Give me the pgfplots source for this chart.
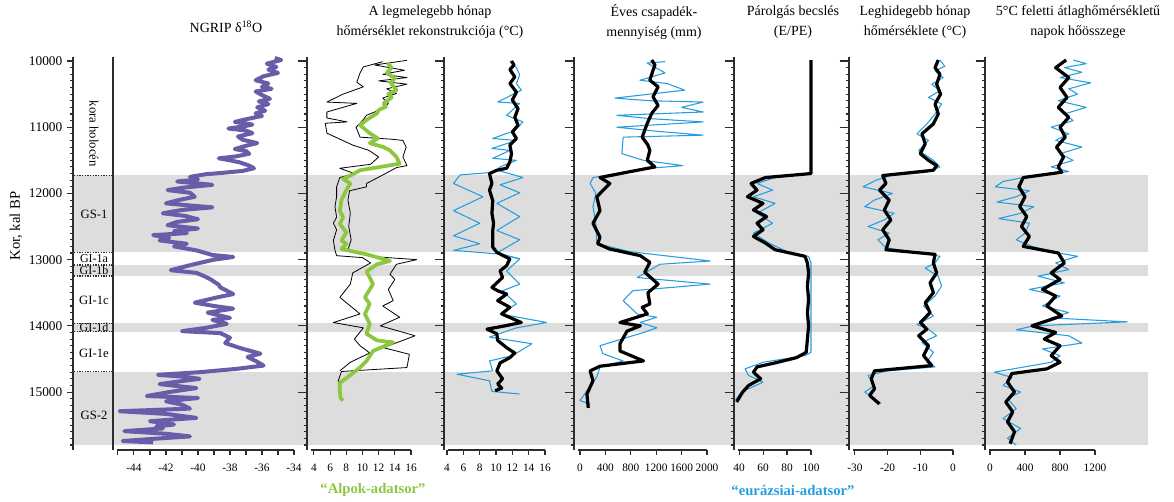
\documentclass[border=0pt]{standalone}
\usepackage{fontspec}
\setmainfont{Liberation Serif}
\usepackage{pgfplots}
\pgfplotsset{compat=1.18}
\definecolor{ngrip}{RGB}{106,92,168}
\definecolor{alpgreen}{RGB}{141,198,63}
\definecolor{eurblue}{RGB}{38,158,221}
\definecolor{band}{RGB}{221,221,221}
\definecolor{axisgray}{RGB}{45,45,45}
\newcommand\tfont{\fontsize{10.5}{14.5}\selectfont}
\pgfplotsset{
  agebase/.style={scale only axis, anchor=north west, clip=false,
    height=294.7pt, ymin=9940, ymax=15875, y dir=reverse,
    scaled y ticks=false, scaled x ticks=false},
  panel/.style={agebase,
    axis x line*=bottom, axis y line*=left,
    axis line style={axisgray, line width=1pt},
    x axis line style={shorten <=3pt},
    ytick={10000,11000,...,15000}, yticklabels={},
    minor ytick={10000,10100,...,15800},
    tick align=outside, major tick length=7pt, minor tick length=2.5pt,
    tick style={axisgray, line width=0.8pt},
    xtick style={/pgfplots/major tick length=3.5pt},
    xticklabel style={font=\fontsize{8.5}{10}\selectfont},
    every axis plot/.append style={line join=round, no marks}},
  thinblack/.style={black, line width=0.6pt},
  thickblack/.style={black, line width=2.4pt},
  thinblue/.style={eurblue, line width=0.8pt},
}
\begin{document}
\begin{tikzpicture}
\path[use as bounding box] (0,0) rectangle (880.5pt,-375.75pt);
% background: bands, main age axis, stage column
\begin{axis}[agebase, at={(54.75pt,-42.77pt)}, width=806.25pt, xmin=73, xmax=1148,
  axis x line=none, axis y line*=left, axis line style={axisgray,line width=1pt},
  ytick={10000,11000,...,15000}, yticklabels={10000,11000,12000,13000,14000,15000},
  minor ytick={10000,10100,...,15800}, tick align=outside,
  major tick length=4.5pt, minor tick length=2pt, tick style={axisgray,line width=0.8pt},
  yticklabel style={font=\fontsize{10}{12}\selectfont}, axis on top]
\addplot[fill=band, draw=none] coordinates {(74,11725) (1148,11725) (1148,12890) (74,12890)};
\addplot[fill=band, draw=none] coordinates {(74,13080) (1148,13080) (1148,13245) (74,13245)};
\addplot[fill=band, draw=none] coordinates {(74,13960) (1148,13960) (1148,14090) (74,14090)};
\addplot[fill=band, draw=none] coordinates {(74,14690) (1148,14690) (1148,15800) (74,15800)};
\foreach \a in {11725,12890,13080,13245,13960,14090,14690}{
  \edef\tmp{\noexpand\draw[axisgray, densely dotted, line width=1pt] (axis cs:74,\a) -- (axis cs:113,\a);}\tmp}
\node[font=\fontsize{9.5}{11}\selectfont, rotate=-90] at (axis cs:94,11100) {kora holocén};
\node[font=\fontsize{9.5}{11}\selectfont] at (axis cs:94,12310) {GS-1};
\node[font=\fontsize{9}{10}\selectfont] at (axis cs:94,12985) {GI-1a};
\node[font=\fontsize{9}{10}\selectfont] at (axis cs:94,13160) {GI-1b};
\node[font=\fontsize{9.5}{11}\selectfont] at (axis cs:94,13620) {GI-1c};
\node[font=\fontsize{9}{10}\selectfont] at (axis cs:94,14025) {GI-1d};
\node[font=\fontsize{9.5}{11}\selectfont] at (axis cs:94,14410) {GI-1e};
\node[font=\fontsize{9.5}{11}\selectfont] at (axis cs:94,15350) {GS-2};
\end{axis}
% Panel 1: NGRIP
\begin{axis}[panel, at={(84.75pt,-42.77pt)}, width=135.75pt, xmin=-45.31, xmax=-34,
  ytick=\empty, minor ytick=\empty, y axis line style={line width=1.5pt},
  xtick={-45,-44,...,-34}, xticklabels={,-44,,-42,,-40,,-38,,-36,,-34}]
\addplot[ngrip, line width=3pt] coordinates {
(-35.2,9955) (-34.8,9985) (-35.7,10040) (-35.1,10090) (-35.6,10130) (-35.0,10180) (-35.9,10230) (-36.4,10290) (-35.6,10340) (-36.0,10390) (-35.4,10420) (-36.4,10460) (-36.0,10515) (-35.5,10570) (-36.2,10610) (-35.6,10650) (-36.3,10700) (-35.8,10750) (-36.4,10790) (-36.0,10830) (-37.0,10880) (-37.7,10920) (-36.6,10960) (-37.2,10990) (-38.1,11020) (-37.0,11050) (-36.6,11090) (-37.5,11140) (-37.2,11190) (-36.3,11240) (-37.0,11280) (-37.7,11330) (-37.0,11360) (-36.8,11400) (-37.6,11440) (-38.7,11470) (-38.0,11500) (-37.4,11530) (-36.8,11580) (-36.5,11620) (-37.2,11660) (-38.5,11690) (-39.5,11710) (-40.5,11750) (-40.0,11790) (-41.3,11820) (-39.1,11870) (-40.8,11910) (-41.9,11950) (-40.5,11990) (-40.2,12050) (-41.2,12100) (-42.0,12150) (-40.6,12180) (-39.1,12210) (-41.0,12250) (-42.2,12300) (-40.8,12340) (-40.0,12390) (-41.3,12430) (-41.9,12480) (-40.0,12530) (-41.5,12570) (-40.7,12600) (-42.8,12630) (-41.8,12670) (-42.4,12710) (-40.7,12760) (-41.5,12800) (-40.1,12860) (-39.1,12930) (-37.8,12960) (-39.0,13000) (-39.9,13050) (-40.6,13090) (-41.7,13160) (-40.1,13200) (-39.6,13250) (-39.2,13300) (-38.7,13380) (-38.6,13420) (-38.2,13470) (-37.8,13520) (-38.8,13570) (-40.2,13650) (-39.0,13700) (-37.8,13740) (-39.4,13800) (-38.0,13880) (-39.1,13910) (-38.2,13970) (-39.5,14030) (-41.0,14080) (-38.6,14110) (-38.0,14180) (-38.3,14260) (-37.3,14340) (-36.1,14420) (-36.9,14470) (-36.4,14530) (-35.9,14600) (-37.6,14650) (-39.9,14700) (-42.5,14740) (-40.8,14770) (-39.9,14800) (-41.5,14850) (-42.4,14880) (-40.1,14940) (-41.8,15000) (-43.2,15060) (-40.0,15090) (-42.0,15140) (-41.0,15190) (-40.5,15250) (-44.9,15290) (-42.0,15330) (-40.1,15390) (-43.0,15440) (-41.5,15490) (-42.6,15520) (-42.2,15550) (-44.6,15590) (-42.0,15630) (-40.5,15670) (-43.0,15710) (-44.7,15740) (-42.8,15760)};
\end{axis}
% Panel 2: Alps
\begin{axis}[panel, at={(230.25pt,-42.77pt)}, width=78pt, xmin=3.14, xmax=16,
  xtick={4,6,...,16}, xticklabels={4,6,8,10,12,14,16}]
\addplot[thinblack] coordinates {
(15.5,9990) (11.5,10060) (15.2,10140) (12.5,10200) (15.5,10250) (12.0,10300) (15.5,10350) (13.0,10420) (14.2,10490) (12.5,10560) (13.2,10640) (12.5,10720) (10.5,10820) (10.0,10900) (9.2,11000) (9.7,11150) (13.5,11180) (15.0,11200) (15.4,11300) (15.0,11450) (15.5,11580) (14.2,11610) (13.0,11690) (10.5,11850) (10.5,11900) (8.4,11960) (8.2,12100) (8.5,12300) (8.3,12500) (8.6,12700) (8.2,12850) (12.0,12960) (16.7,13000) (14.2,13070) (13.4,13220) (14.0,13300) (13.2,13450) (13.8,13620) (12.5,13700) (14.6,13870) (12.2,14000) (16.5,14150) (12.6,14330) (15.8,14430) (15.5,14630) (10.0,14670) (7.4,14690) (7.0,14830) (7.4,15030)};
\addplot[thinblack] coordinates {
(12.5,10010) (10.1,10090) (9.7,10180) (9.3,10320) (10.1,10390) (7.6,10500) (5.6,10620) (9.3,10640) (5.6,10770) (5.6,10860) (8.1,10920) (5.4,10940) (5.6,11090) (8.8,11270) (10.8,11350) (12.0,11450) (11.0,11560) (7.2,11620) (9.0,11700) (7.2,11760) (6.8,11900) (6.8,12050) (6.6,12200) (6.8,12360) (6.4,12450) (6.8,12550) (6.4,12710) (6.6,12860) (6.8,12940) (10.0,12970) (11.0,13050) (8.8,13200) (8.5,13370) (7.2,13570) (8.5,13700) (9.7,13820) (6.4,13950) (10.1,14030) (9.0,14200) (9.7,14300) (10.9,14410) (8.5,14550) (7.2,14680)};
\addplot[alpgreen, line width=2.8pt] coordinates {
(13.1,10030) (13.6,10100) (13.0,10180) (14.0,10260) (13.5,10330) (14.2,10440) (13.2,10500) (13.6,10550) (12.6,10640) (12.9,10690) (12.0,10740) (11.8,10790) (10.5,10890) (9.7,10970) (10.5,11050) (10.9,11090) (11.9,11170) (10.9,11240) (12.6,11300) (13.4,11350) (14.2,11450) (14.6,11550) (12.2,11600) (9.7,11650) (8.5,11730) (7.6,11780) (8.5,11850) (8.0,11950) (7.4,12100) (7.2,12260) (7.6,12360) (7.2,12460) (8.0,12590) (7.4,12710) (8.0,12760) (7.4,12840) (10.5,12920) (13.4,13020) (11.8,13070) (10.5,13180) (10.9,13270) (11.3,13370) (10.3,13570) (10.9,13670) (10.3,13820) (10.9,13970) (10.5,14120) (11.8,14220) (13.8,14250) (11.3,14380) (10.5,14530) (9.7,14630) (8.0,14790) (7.2,14860) (7.2,14990) (7.3,15090) (7.6,15130)};
\end{axis}
% Panel 3: Eurasia warmest month
\begin{axis}[panel, at={(333pt,-42.77pt)}, width=75.75pt, xmin=3.63, xmax=16,
  xtick={4,6,...,16}, xticklabels={4,6,8,10,12,14,16}]
\addplot[thinblue] coordinates {
(11.7,10000) (12.5,10100) (12.9,10210) (12.5,10340) (13.1,10440) (10.2,10620) (12.9,10640) (11.3,10820) (13.3,10920) (12.3,11050) (9.6,11170) (12.5,11200) (9.5,11320) (11.7,11350) (9.6,11470) (12.5,11500) (10.5,11600) (9.8,11680) (5.6,11720) (4.8,11850) (8.4,12050) (4.8,12260) (8.0,12450) (4.8,12640) (8.0,12760) (4.8,12860) (10.8,12920) (12.9,12990) (11.3,13170) (12.9,13370) (10.8,13470) (12.5,13670) (10.5,13820) (16.2,13950) (12.5,14030) (9.2,14170) (14.4,14270) (12.0,14450) (9.2,14530) (9.6,14680) (5.2,14730) (9.2,14830) (9.5,14990) (12.9,15030)};
\addplot[thinblue] coordinates {
(10.2,11650) (13.3,11760) (10.5,11870) (12.9,11990) (10.1,12150) (12.9,12350) (10.1,12560) (12.9,12700) (10.1,12900) (12.9,12990)};
\addplot[thickblack] coordinates {
(11.9,10000) (12.2,10060) (11.7,10130) (12.3,10240) (11.7,10340) (12.5,10470) (12.0,10590) (12.7,10720) (12.3,10850) (12.7,10970) (12.0,11070) (12.5,11170) (11.7,11270) (11.9,11400) (11.7,11520) (11.3,11620) (10.1,11650) (9.2,11700) (9.5,11850) (9.2,11950) (9.6,12110) (9.5,12300) (9.7,12450) (9.6,12560) (9.6,12810) (10.1,12890) (11.7,12990) (11.3,13090) (10.5,13170) (10.8,13270) (9.5,13420) (10.2,13470) (11.3,13520) (10.2,13620) (11.7,13720) (10.7,13820) (13.1,13950) (11.1,14000) (8.9,14050) (10.1,14120) (10.2,14220) (11.3,14330) (12.3,14410) (11.7,14480) (10.5,14560) (10.1,14680) (10.8,14800) (10.2,14880) (10.7,14940) (9.9,14980)};
\end{axis}
% Panel 4: annual precipitation
\begin{axis}[panel, at={(430.5pt,-42.77pt)}, width=99.75pt, xmin=-94, xmax=2000,
  xtick={0,400,...,2000}, xticklabels={0,400,800,1200,1600,2000}]
\addplot[thinblue] coordinates {
(1340,10010) (1055,10030) (1340,10180) (945,10290) (1370,10340) (1650,10440) (550,10560) (1100,10600) (1940,10620) (1600,10700) (1940,10770) (580,10820) (1100,10870) (1940,10920) (580,11000) (1200,11060) (1940,11120) (680,11150) (660,11400) (1000,11500) (1620,11580) (1100,11620) (205,11760) (160,11850) (250,12000) (205,12200) (250,12450) (265,12760) (790,12880) (2050,13020) (1260,13070) (900,13270) (2050,13370) (830,13470) (680,13620) (900,13820) (1210,13870) (950,13950) (1210,14030) (1000,14100) (315,14300) (360,14420) (680,14530) (315,14620) (265,14770) (0,15130) (160,15180)};
\addplot[thickblack] coordinates {
(1130,9985) (1180,10060) (1150,10140) (1100,10290) (1230,10390) (1150,10540) (1230,10670) (1130,10790) (1060,10940) (980,11150) (1070,11270) (1100,11350) (1060,11500) (1180,11600) (740,11680) (315,11760) (470,11850) (265,12050) (315,12260) (205,12450) (315,12660) (280,12760) (470,12840) (950,12940) (1100,13040) (1020,13190) (1230,13370) (1070,13500) (1100,13670) (980,13720) (1060,13820) (630,13950) (950,14000) (740,14080) (630,14270) (630,14380) (1000,14530) (315,14610) (160,14680) (205,14830) (110,15030) (130,15240)};
\end{axis}
% Panel 5: E/PE
\begin{axis}[panel, at={(550.5pt,-42.77pt)}, width=57.75pt, xmin=35.8, xmax=100,
  xtick={40,60,80,100}, xticklabels={40,60,80,100}]
\addplot[thinblue] coordinates {
(100,9985) (100,11700) (70,11760) (55,11850) (68,11950) (52,12050) (70,12150) (55,12300) (68,12450) (52,12600) (65,12750) (80,12880) (98,12950) (100,13050) (100,14400) (95,14450) (60,14550) (45,14650) (48,14750) (60,14850) (42,15000) (37,15120)};
\addplot[thickblack] coordinates {
(100,9985) (100,11700) (62,11760) (50,11850) (55,11950) (47,12050) (60,12150) (52,12250) (63,12350) (55,12450) (60,12550) (52,12650) (62,12750) (70,12850) (95,12950) (97,13050) (98,13200) (97,13400) (98,13600) (97,13800) (98,14000) (97,14200) (96,14400) (88,14480) (70,14560) (55,14620) (52,14700) (58,14800) (48,14900) (43,15000) (38,15150)};
\end{axis}
% Panel 6: coldest month
\begin{axis}[panel, at={(636.75pt,-42.77pt)}, width=78pt, xmin=-31.8, xmax=0,
  xtick={-30,-20,-10,0}, xticklabels={-30,-20,-10,0}]
\addplot[thinblue] coordinates {
(-4.0,9985) (-2.5,10080) (-5.5,10150) (-3.0,10250) (-6.5,10350) (-4.0,10450) (-7.5,10550) (-3.5,10650) (-5.5,10800) (-8.0,10950) (-11.0,11100) (-7.5,11200) (-10.5,11350) (-6.0,11500) (-4.0,11600) (-8.0,11680) (-19.0,11730) (-23.5,11800) (-27.5,11900) (-18.5,12000) (-24.0,12100) (-27.0,12200) (-18.0,12300) (-21.0,12400) (-26.0,12500) (-19.5,12600) (-23.0,12700) (-20.5,12820) (-10.0,12900) (-4.0,12950) (-5.5,13050) (-8.5,13130) (-4.5,13250) (-3.5,13400) (-5.5,13550) (-9.0,13700) (-6.0,13850) (-11.0,13980) (-7.5,14050) (-5.0,14150) (-9.5,14250) (-6.0,14400) (-8.0,14550) (-5.5,14620) (-20.0,14680) (-26.0,14750) (-24.0,14900) (-27.0,15000) (-24.0,15100) (-22.0,15170)};
\addplot[thickblack] coordinates {
(-4.5,9985) (-5.5,10100) (-4.0,10200) (-5.0,10350) (-3.8,10500) (-5.5,10650) (-4.5,10800) (-6.0,10950) (-9.5,11100) (-8.5,11250) (-10.0,11400) (-7.5,11500) (-5.0,11580) (-6.0,11650) (-21.5,11730) (-20.5,11850) (-22.5,11950) (-19.5,12100) (-21.0,12250) (-19.0,12400) (-21.5,12550) (-19.5,12700) (-20.5,12850) (-5.5,12920) (-6.0,13050) (-5.0,13200) (-7.0,13350) (-6.0,13500) (-8.5,13650) (-7.0,13800) (-10.0,13950) (-8.0,14050) (-10.5,14150) (-7.5,14300) (-9.0,14450) (-6.5,14600) (-24.0,14680) (-25.0,14800) (-24.0,14950) (-25.5,15050) (-22.5,15180)};
\end{axis}
% Panel 7: GDD5
\begin{axis}[panel, at={(738.75pt,-42.77pt)}, width=82.5pt, xmin=-57, xmax=1200,
  xtick={0,400,800,1200}, xticklabels={0,400,800,1200}]
\addplot[thinblue] coordinates {
(950,9985) (1100,10040) (850,10100) (1050,10170) (800,10250) (1150,10330) (900,10420) (1000,10500) (780,10600) (1100,10700) (850,10800) (950,10900) (700,11000) (900,11100) (750,11200) (1050,11300) (800,11400) (950,11500) (700,11600) (900,11670) (450,11740) (150,11820) (60,11900) (450,11960) (300,12050) (80,12130) (500,12200) (350,12300) (100,12380) (450,12450) (400,12600) (300,12700) (480,12800) (700,12880) (1000,12950) (750,13050) (900,13150) (550,13250) (850,13350) (450,13450) (800,13550) (600,13700) (900,13800) (700,13880) (1570,13940) (500,14000) (300,14060) (900,14150) (1050,14260) (600,14350) (800,14450) (700,14550) (350,14630) (50,14700) (250,14780) (150,14900) (350,15000) (200,15100) (300,15250) (150,15400) (350,15550) (200,15700) (300,15800)};
\addplot[thickblack] coordinates {
(870,9985) (750,10100) (900,10250) (800,10400) (880,10550) (780,10700) (900,10850) (800,11000) (860,11150) (760,11300) (840,11450) (780,11600) (820,11680) (380,11760) (330,11900) (400,12050) (340,12200) (420,12350) (360,12500) (450,12650) (380,12800) (780,12900) (850,13050) (700,13200) (800,13300) (600,13450) (750,13550) (650,13700) (820,13850) (480,14000) (750,14100) (620,14200) (800,14300) (700,14450) (800,14550) (650,14650) (250,14720) (200,14850) (280,15000) (180,15150) (260,15300) (200,15450) (280,15600) (230,15780)};
\end{axis}
% titles
\node[font=\tfont] at (169.5pt,-20pt) {NGRIP δ\textsuperscript{18}O};
\node[font=\tfont, align=center] at (322.5pt,-16.5pt) {A legmelegebb hónap\\hőmérséklet rekonstrukciója (°C)};
\node[font=\tfont, align=center] at (490.5pt,-16.5pt) {Éves csapadék-\\mennyiség (mm)};
\node[font=\tfont, align=center] at (594.75pt,-16.5pt) {Párolgás becslés\\(E/PE)};
\node[font=\tfont, align=center] at (686.25pt,-16.5pt) {Leghidegebb hónap\\hőmérséklete (°C)};
\node[font=\tfont, align=center] at (808.5pt,-16.5pt) {5°C feletti átlaghőmérsékletű\\napok hőösszege};
\node[font=\fontsize{11}{13}\selectfont, rotate=90] at (12pt,-169.5pt) {Kor, kal BP};
\node[font=\bfseries\fontsize{11}{13}\selectfont, text=alpgreen] at (279.75pt,-367.5pt) {“Alpok-adatsor”};
\node[font=\bfseries\fontsize{11}{13}\selectfont, text=eurblue] at (594.75pt,-367.5pt) {“eurázsiai-adatsor”};
\end{tikzpicture}
\end{document}
